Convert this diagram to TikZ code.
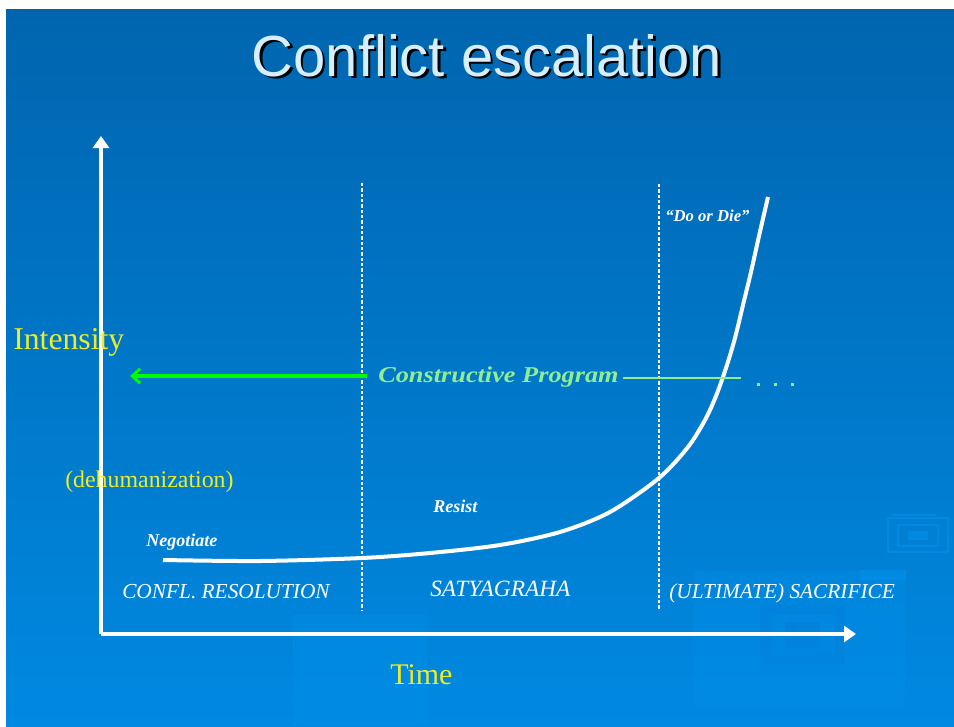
\documentclass[tikz,border=0pt]{standalone}
\usepackage{fontspec}
\setmainfont{Liberation Serif}
\newfontfamily\titlefont{Liberation Sans}
\usetikzlibrary{arrows.meta}
\definecolor{bgtop}{RGB}{0,101,175}
\definecolor{bgmid}{RGB}{0,112,194}
\definecolor{bgbot}{RGB}{0,137,225}
\definecolor{decor}{RGB}{0,145,235}
\definecolor{decordark}{RGB}{0,118,205}
\definecolor{titlecol}{RGB}{214,238,255}
\definecolor{ylw}{RGB}{236,236,40}
\definecolor{lgreen}{RGB}{144,238,144}
\definecolor{bgreen}{RGB}{0,250,0}
\tikzset{
  axisline/.style={white, line width=2.4pt, -{Triangle[width=12pt,length=9pt]}},
  divider/.style={white, line width=1.1pt, dash pattern=on 2.5pt off 1.5pt},
  curveline/.style={white, line width=3pt},
  greenarrow/.style={bgreen, line width=2.6pt, -{Straight Barb[width=11pt,length=6pt,line width=2.2pt]}},
  thingreen/.style={lgreen, line width=1pt},
  ylwtext/.style={text=ylw, inner sep=0pt, anchor=base west},
  whitetext/.style={text=white, inner sep=0pt, anchor=base west, font=\itshape\fontsize{16}{18}\selectfont},
  smalllabel/.style={text=white, inner sep=0pt, anchor=base west, font=\bfseries\itshape\fontsize{13.5}{16}\selectfont},
}
\begin{document}
\begin{tikzpicture}[x=0.75pt,y=-0.75pt]
\useasboundingbox (0,0) rectangle (954,726);
\fill[white] (0,0) rectangle (954,726);
\shade[top color=bgtop, middle color=bgmid, bottom color=bgbot] (6,9) rectangle (954,726);
% faint background decoration
\fill[decor, opacity=0.35] (293,615) rectangle (428,726);
\fill[decor, opacity=0.3] (693,570) rectangle (905,707);
\fill[decordark, opacity=0.2] (760,605) rectangle (845,665);
\fill[decor, opacity=0.35] (772,615) rectangle (835,655);
\fill[decordark, opacity=0.25] (785,622) rectangle (820,648);
\draw[decor, line width=1.5pt, opacity=0.6] (888,518) rectangle (948,552);
\draw[decor, line width=1.5pt, opacity=0.6] (898,525) rectangle (938,546);
\fill[decor, opacity=0.6] (908,531) rectangle (928,540);
\draw[decor, line width=1.2pt, opacity=0.6] (892,515) -- (936,515);
\fill[decor, opacity=0.5] (860,570) rectangle (906,580);

% title with shadow
\node[font=\titlefont\fontsize{43.5}{50}\selectfont, text=titlecol] (title) at (487,57)
  {\rlap{\kern1.8pt\raisebox{-1.8pt}{\color{black}Conflict escalation}}Conflict escalation};

% axes
\coordinate (O) at (101,634);
\coordinate (ytip) at (101,136);
\coordinate (xtip) at (856,634);
\draw[axisline] (O) -- (ytip);
\draw[axisline] (O) -- (xtip);

% dividers
\coordinate (d1top) at (362,183);
\coordinate (d1bot) at (362,610);
\coordinate (d2top) at (659,184);
\coordinate (d2bot) at (659,610);
\draw[divider] (d1top) -- (d1bot);
\draw[divider] (d2top) -- (d2bot);

% escalation curve
\draw[curveline] plot[smooth, tension=0.5] coordinates {(163,560) (260,561) (362,558) (430,553) (500,545) (560,532) (610,512) (659,478) (688,447) (705,420) (716,396) (726,368) (735,338) (743,305) (751,272) (759,236) (768,197)};

% constructive program
\coordinate (gstart) at (367,376);
\coordinate (gend) at (130,376);
\draw[greenarrow] (gstart) -- (gend);
\node[text=lgreen, inner sep=0pt, anchor=base west, font=\bfseries\itshape\fontsize{17}{20}\selectfont, xscale=1.16] (cp) at (378,382) {Constructive Program};
\coordinate (tl1) at (623,378);
\coordinate (tl2) at (741,378);
\draw[thingreen] (tl1) -- (tl2);
\fill[lgreen] (757,383) rectangle (759.5,385.5);
\fill[lgreen] (774,383) rectangle (776.5,385.5);
\fill[lgreen] (791,383) rectangle (793.5,385.5);

% axis labels
\node[ylwtext, font=\fontsize{23.8}{26}\selectfont] (intensity) at (13,349) {Intensity};
\node[ylwtext, font=\fontsize{17.9}{20}\selectfont] (dehum) at (65,487) {(dehumanization)};
\node[ylwtext, font=\fontsize{22.5}{25}\selectfont] (time) at (390,684) {Time};

% curve labels
\node[smalllabel] (negotiate) at (146,546) {Negotiate};
\node[smalllabel] (resist) at (433,512) {Resist};
\node[smalllabel, font=\bfseries\itshape\fontsize{12.5}{15}\selectfont] (doordie) at (665,221) {“Do or Die”};

% region labels
\node[whitetext] (confl) at (122,598) {CONFL. RESOLUTION};
\node[whitetext, font=\itshape\fontsize{17.5}{20}\selectfont] (satya) at (430,596) {SATYAGRAHA};
\node[whitetext] (sacr) at (669,598) {(ULTIMATE) SACRIFICE};
\end{tikzpicture}
\end{document}
